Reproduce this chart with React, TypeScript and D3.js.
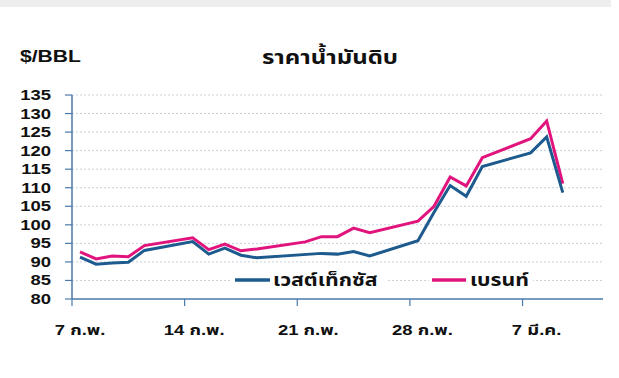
import React from "react";
import * as d3 from "d3";

// Day index from 7 Feb (0) to 11 Mar (32); 33 daily categories on the axis
const wtiDays = [0, 1, 2, 3, 4, 7, 8, 9, 10, 11, 15, 16, 17, 18, 21, 22, 23, 24, 25, 28, 29, 30];
const wtiValues = [91.3, 89.4, 89.7, 89.9, 93.1, 95.5, 92.1, 93.7, 91.8, 91.1, 92.3, 92.1, 92.8, 91.6, 95.7, 103.4, 110.6, 107.7, 115.7, 119.4, 123.7, 108.7];
const brentDays = [0, 1, 2, 3, 4, 7, 8, 9, 10, 11, 14, 15, 16, 17, 18, 21, 22, 23, 24, 25, 28, 29, 30];
const brentValues = [92.7, 90.8, 91.6, 91.4, 94.4, 96.5, 93.3, 94.8, 93.0, 93.5, 95.4, 96.8, 96.8, 99.1, 97.9, 101.0, 105.0, 112.9, 110.5, 118.1, 123.2, 128.0, 111.1];
const tickDays = [0, 7, 14, 21, 28];
const tickLabels = ["7 ก.พ.", "14 ก.พ.", "21 ก.พ.", "28 ก.พ.", "7 มี.ค."];
const yTicks = [80, 85, 90, 95, 100, 105, 110, 115, 120, 125, 130, 135];
const seriesNames = ["เวสต์เท็กซัส", "เบรนท์"];

const BLUE = "#1d5a8e";
const PINK = "#e0147c";
const AXIS = "#4a7aaa";
const FONT = "Arial, 'Liberation Sans', 'Noto Sans Thai', 'Loma', 'Garuda', sans-serif";

export default function App() {
  const x = d3.scaleLinear().domain([0, 33]).range([72, 603]);
  const y = d3.scaleLinear().domain([80, 135]).range([299, 95]);
  const line = d3
    .line<[number, number]>()
    .x((d) => x(d[0] + 0.5))
    .y((d) => y(d[1]));
  const wti: [number, number][] = wtiDays.map((d, i) => [d, wtiValues[i]]);
  const brent: [number, number][] = brentDays.map((d, i) => [d, brentValues[i]]);

  const sx = 1.32;
  const txt = (
    tx: number,
    ty: number,
    s: string,
    size: number,
    anchor: "start" | "middle" | "end",
    key?: string,
    scale: number = sx
  ) => (
    <text
      key={key}
      transform={`translate(${tx},${ty}) scale(${scale},1)`}
      fontSize={size}
      fontWeight="bold"
      fontFamily={FONT}
      textAnchor={anchor}
      fill="#111"
    >
      {s}
    </text>
  );

  return (
    <svg
      width={619}
      height={378}
      style={{ position: "absolute", left: 0, top: 0, background: "#fff" }}
    >
      <rect x={0} y={0} width={611} height={7} fill="#eeeeee" />
      {txt(20, 61.5, "$/BBL", 16, "start")}
      {txt(330, 64, "ราคาน้ำมันดิบ", 20, "middle", "title", 1.2)}

      {yTicks.slice(1).map((v) => (
        <line
          key={"g" + v}
          x1={72}
          x2={603}
          y1={y(v)}
          y2={y(v)}
          stroke="#c6d0da"
          strokeWidth={1}
          strokeDasharray="2,2"
        />
      ))}
      {yTicks.map((v) => (
        <line key={"yt" + v} x1={65} x2={72} y1={y(v)} y2={y(v)} stroke={AXIS} strokeWidth={1.2} />
      ))}
      {yTicks.map((v) => txt(51, y(v) + 5, String(v), 14, "end", "yl" + v))}
      <line x1={72} x2={72} y1={y(135)} y2={y(80)} stroke={AXIS} strokeWidth={1.5} />
      <line x1={72} x2={603} y1={y(80)} y2={y(80)} stroke={AXIS} strokeWidth={1.5} />
      {tickDays.map((d) => (
        <line key={"xt" + d} x1={x(d)} x2={x(d)} y1={y(80)} y2={y(80) + 7} stroke={AXIS} strokeWidth={1.2} />
      ))}
      {tickDays.map((d, i) => txt(x(d + 0.5) + 1.5 * i, 335, tickLabels[i], 14, "middle", "xl" + d))}

      <path d={line(brent) || ""} fill="none" stroke={PINK} strokeWidth={3} strokeLinejoin="miter" />
      <path d={line(wti) || ""} fill="none" stroke={BLUE} strokeWidth={3} strokeLinejoin="miter" />

      <rect x={232} y={270} width={154} height={20} fill="#fff" />
      <rect x={429} y={270} width={104} height={20} fill="#fff" />
      <line x1={235} x2={270} y1={280} y2={280} stroke={BLUE} strokeWidth={3.5} />
      {txt(273, 286, seriesNames[0], 17, "start", "l0", 1.25)}
      <line x1={432} x2={466} y1={280} y2={280} stroke={PINK} strokeWidth={3.5} />
      {txt(470, 286, seriesNames[1], 17, "start", "l1", 1.25)}
    </svg>
  );
}
